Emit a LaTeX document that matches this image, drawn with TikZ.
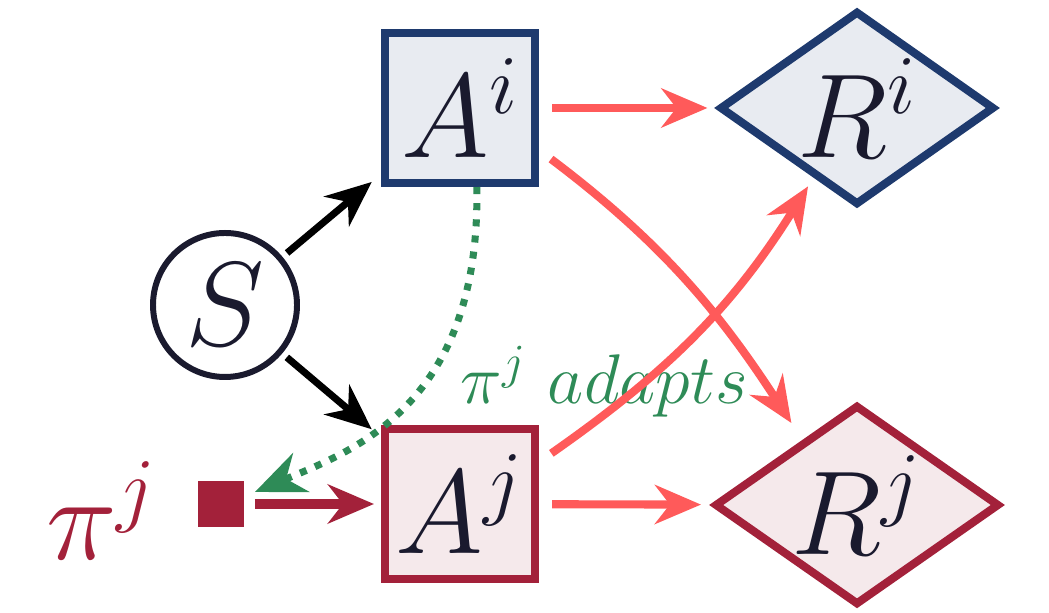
\RequirePackage{fix-cm}
\documentclass[tikz,border=0pt]{standalone}
\usepackage{xcolor}
\usetikzlibrary{shapes.geometric, arrows.meta, positioning}

\definecolor{navy}{HTML}{1E3A6E}
\definecolor{navyfill}{HTML}{E8EBF1}
\definecolor{wine}{HTML}{A3213A}
\definecolor{winefill}{HTML}{F5E9EB}
\definecolor{salmon}{HTML}{FF5A5A}
\definecolor{leaf}{HTML}{2E8B57}
\definecolor{ink}{HTML}{1A1A2E}

\begin{document}
\begin{tikzpicture}[
  font=\fontsize{34}{40}\selectfont,
  act/.style={draw, line width=2.3pt, minimum size=1.5cm, inner sep=0pt, text=ink},
  rew/.style={diamond, draw, line width=2.3pt, inner sep=0pt, aspect=1.4, text=ink},
  arr/.style={-{Stealth[length=4.6mm, width=3.9mm]}, line width=2.3pt}
]
\useasboundingbox (0,0) rectangle (10.49,6.13);

\node[circle, draw=ink, line width=1.7pt, minimum size=1.44cm, inner sep=0pt, text=ink] (S) at (2.25,3.08) {$S$};
\node[act, draw=navy, fill=navyfill] (Ai) at (4.60,5.05) {$A^i$};
\node[act, draw=wine, fill=winefill] (Aj) at (4.60,1.09) {$A^j$};
\node[rew, draw=navy, fill=navyfill, minimum width=2.75cm, minimum height=1.94cm] (Ri) at (8.57,5.05) {$R^i$};
\node[rew, draw=wine, fill=winefill, minimum width=2.85cm, minimum height=2.0cm] (Rj) at (8.57,1.08) {$R^j$};

% policy of j
\node[fill=wine, minimum size=0.46cm, inner sep=0pt, left=1.36cm of Aj] (pisq) {};
\node[text=wine, inner sep=0pt, anchor=base east] (pilab) at (1.58,0.53) {$\pi^j$};
\node[text=leaf, font=\fontsize{20}{24}\selectfont, anchor=base west, inner sep=0pt] (adapt) at (4.60,2.09) {$\pi^j\ adapts$};

\draw[arr, black, line width=2pt, shorten <=0.06cm, shorten >=0.12cm] (S) -- (Ai);
\draw[arr, black, line width=2pt, shorten <=0.06cm, shorten >=0.12cm] (S) -- (Aj);
\draw[arr, wine, line width=2.6pt, shorten <=0.1cm, shorten >=0.07cm] (pisq) -- (Aj);

\draw[arr, salmon, shorten <=0.13cm, shorten >=0.08cm] (Ai) -- (Ri);
\draw[arr, salmon, shorten <=0.13cm, shorten >=0.1cm] (Aj) -- (Rj);
\draw[arr, salmon, shorten <=0.15cm, shorten >=0.2cm] (Ai.-28) to[out=-37, in=123] (Rj.130);
\draw[arr, salmon, shorten <=0.15cm, shorten >=0.1cm] (Aj.28) to[out=35, in=-122] (Ri.-122);

% adaptation
\draw[-{Stealth[length=5mm, width=4.2mm]}, leaf, line width=2pt, dash pattern=on 2pt off 2.6pt] (Ai.-78) .. controls +(0.04,-2.2) and +(0.95,0.4) .. ([shift={(0.1,0.12)}]pisq.east);
\end{tikzpicture}
\end{document}
